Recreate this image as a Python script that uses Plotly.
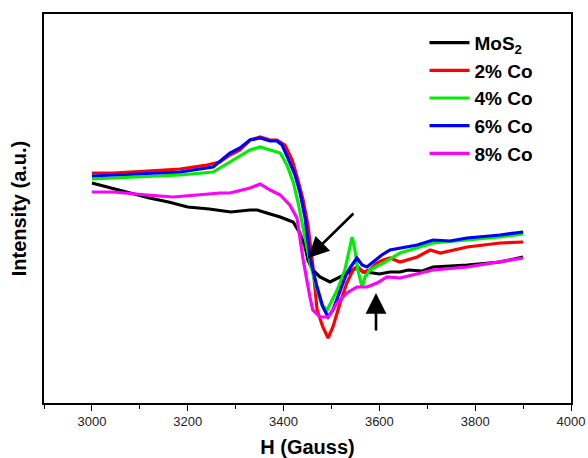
import plotly.graph_objects as go

# EPR spectra of pristine and Co-doped MoS2 (field in Gauss, intensity in a.u.)
h_mos2 = [3000, 3040, 3080, 3120, 3160, 3200, 3245, 3290, 3330, 3345, 3365, 3393, 3420, 3434,
          3445, 3451, 3461, 3476, 3497, 3518, 3539, 3553, 3566, 3587, 3600, 3622, 3643, 3660,
          3690, 3712, 3783, 3852, 3900]
i_mos2 = [220, 215, 210, 205, 201, 196, 194, 191, 193, 193, 190, 186, 181, 170,
          156, 143, 133, 126, 121, 126, 131, 136, 131, 130, 129, 131, 131, 133,
          132, 136, 138, 141, 146]

h_co2 = [3000, 3044, 3115, 3184, 3240, 3267, 3288, 3309, 3330, 3351, 3372, 3386, 3403, 3418,
         3430, 3441, 3451, 3461, 3470, 3482, 3493, 3503, 3518, 3532, 3545, 3555, 3566, 3580,
         3595, 3608, 3622, 3643, 3679, 3706, 3727, 3783, 3852, 3900]
i_co2 = [230, 230, 232, 234, 238, 241, 248, 253, 263, 266, 263, 263, 258, 243,
         223, 203, 178, 138, 93, 76, 65, 76, 100, 120, 133, 136, 131, 133,
         140, 143, 145, 141, 146, 153, 150, 156, 160, 161]

h_co4 = [3000, 3044, 3115, 3184, 3253, 3288, 3330, 3351, 3372, 3393, 3407, 3420, 3430, 3438,
         3445, 3455, 3470, 3480, 3491, 3512, 3528, 3539, 3543, 3549, 3555, 3564, 3570, 3580,
         3608, 3643, 3712, 3783, 3852, 3900]
i_co4 = [224, 225, 226, 228, 231, 241, 253, 256, 253, 250, 238, 221, 201, 181,
         163, 141, 113, 98, 93, 113, 133, 160, 166, 153, 133, 116, 126, 133,
         140, 150, 160, 163, 166, 169]

h_co6 = [3000, 3044, 3115, 3184, 3253, 3288, 3309, 3330, 3351, 3372, 3386, 3397, 3409, 3424,
         3434, 3445, 3455, 3470, 3482, 3493, 3503, 3518, 3532, 3543, 3553, 3564, 3574, 3587,
         3605, 3622, 3643, 3679, 3712, 3747, 3783, 3852, 3900]
i_co6 = [227, 228, 230, 231, 236, 250, 255, 263, 265, 262, 262, 258, 245, 228,
         211, 185, 146, 116, 96, 86, 93, 113, 130, 138, 145, 138, 136, 141,
         148, 153, 155, 158, 163, 162, 165, 168, 171]

h_co8 = [3000, 3044, 3115, 3169, 3219, 3267, 3288, 3330, 3351, 3372, 3393, 3413, 3428, 3441,
         3455, 3461, 3476, 3493, 3512, 3532, 3553, 3574, 3595, 3616, 3643, 3712, 3783, 3852,
         3900]
i_co8 = [211, 211, 208, 206, 208, 210, 210, 215, 219, 213, 208, 198, 185, 143,
         106, 93, 86, 86, 100, 110, 116, 116, 120, 126, 125, 133, 136, 141,
         145]

series = [
    ("MoS<sub>2</sub>", h_mos2, i_mos2, "#000000"),
    ("2% Co", h_co2, i_co2, "#ff0000"),
    ("4% Co", h_co4, i_co4, "#00ee00"),
    ("6% Co", h_co6, i_co6, "#0000ff"),
    ("8% Co", h_co8, i_co8, "#ff00ff"),
]

# arrows marking the features (tail -> head, in data units)
arrow_diag = dict(tail=(3549, 191), head=(3451, 145))
arrow_up = dict(tail=(3593, 71), head=(3593, 110))

fig = go.Figure()
for name, h, inten, color in series:
    fig.add_trace(go.Scatter(x=h, y=inten, mode="lines", name=name, legendgroup=name,
                             line=dict(color=color, width=3.2)))

for arr in (arrow_diag, arrow_up):
    fig.add_annotation(x=arr["head"][0], y=arr["head"][1], ax=arr["tail"][0], ay=arr["tail"][1],
                       xref="x", yref="y", axref="x", ayref="y", text="", showarrow=True,
                       arrowhead=2, arrowsize=1.6, arrowwidth=2.6, arrowcolor="#000000")

fig.update_layout(
    width=588, height=458,
    margin=dict(l=44, r=17, t=14, b=55),
    paper_bgcolor="white", plot_bgcolor="white",
    font=dict(family="Liberation Sans, Arial, sans-serif", color="#000000"),
    legend=dict(x=0.722, y=0.975, xanchor="left", yanchor="top",
                bgcolor="rgba(0,0,0,0)", borderwidth=0,
                font=dict(size=19, family="Liberation Sans, Arial, sans-serif", weight="bold"),
                tracegroupgap=0, itemwidth=40),
    showlegend=True,
)

fig.update_xaxes(range=[2900, 4000], dtick=200, tick0=3000, automargin=False,
                 ticks="outside", ticklen=6, tickwidth=1.3, tickcolor="#000000",
                 minor=dict(dtick=100, tick0=2900, ticks="outside", ticklen=4, tickwidth=1.2,
                            tickcolor="#000000"),
                 showline=True, linecolor="#000000", linewidth=1.5, mirror=True,
                 showgrid=False, zeroline=False,
                 tickfont=dict(size=13, color="#222222"),
                 title=dict(text="H (Gauss)", standoff=17,
                            font=dict(size=20, weight="bold")))
fig.update_yaxes(range=[0, 389], showticklabels=False, ticks="", automargin=False,
                 showline=True, linecolor="#000000", linewidth=1.5, mirror=True,
                 showgrid=False, zeroline=False,
                 title=dict(text="Intensity (a.u.)", standoff=10,
                            font=dict(size=20, weight="bold")))

fig.write_html("out.html")
